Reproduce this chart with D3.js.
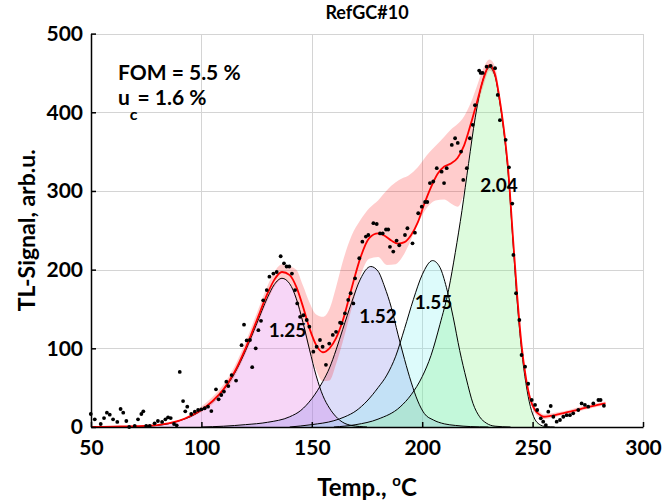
<!DOCTYPE html>
<html lang="en">
<head>
<meta charset="UTF-8">
<title>RefGC#10</title>
<script src="https://d3js.org/d3.v7.min.js"></script>
<style>
body { margin: 0; background: #fff; }
svg { font-family: Lato, "DejaVu Sans", sans-serif; font-weight: bold; }
.grid line { stroke: #d4d4d4; stroke-width: 1; shape-rendering: crispEdges; }
.axis path, .axis line { stroke: #000; stroke-width: 1.5; }
.axis text { font-family: Lato, sans-serif; font-size: 21px; font-weight: bold; fill: #000; }
</style>
</head>
<body>
<script>
// ticks
var xTicks = [50, 100, 150, 200, 250, 300];
var yTicks = [0, 100, 200, 300, 400, 500];

// glow peak components (temp, signal)
var p1T = [60, 70, 75, 80, 85, 90, 95, 100, 105, 110, 115, 120, 125, 130, 133, 136.5, 140, 143, 146, 149, 152, 155, 158, 161, 164, 168, 175];
var p1V = [0, 0.5, 1, 2, 4, 8, 13, 21, 32, 47, 68, 97, 131, 165, 181, 189, 182, 163, 133, 98, 65, 40, 24, 13, 6, 2, 0];
var p2T = [100, 110, 120, 130, 140, 145, 150, 155, 158, 161, 164, 168, 172, 176.7, 180, 183, 186, 189, 192, 195, 198, 201, 205, 210, 215, 222, 230];
var p2V = [0, 1, 3, 6, 13, 21, 36, 58, 75, 98, 124, 158, 188, 204, 198, 178, 152, 118, 86, 57, 33, 17, 9, 4, 2, 0.5, 0];
var p3T = [140, 150, 160, 165, 170, 175, 180, 184, 188, 192, 196, 200, 204.7, 208, 211, 214, 217, 220, 223, 226, 229, 233, 240];
var p3V = [0, 3, 8, 13, 20.5, 33, 50, 66, 90, 125, 162, 193.5, 211.5, 203, 177, 140, 97, 61, 30, 13, 5, 1, 0];
var p4T = [160, 170, 180, 190, 195, 200, 204, 208, 212, 215, 218, 221, 224, 227, 230.5, 233, 235, 237, 239, 241, 243, 245, 247, 249, 251, 253, 256, 260];
var p4V = [0, 3, 10, 25.5, 41, 64, 91, 130, 175, 222, 275, 335, 393, 436, 457, 446, 415, 375, 320, 240, 160, 98, 55, 26, 10, 3.5, 0.5, 0];
var peakLabels = ["1.25", "1.52", "1.55", "2.04"];

// fitted sum
var fitT = [50, 60, 70, 80, 85, 90, 95, 100, 105, 110, 115, 120, 125, 130, 133, 136.5, 140, 143, 146, 149, 152, 155, 158, 161, 164, 168, 172, 176, 180, 183, 186, 189, 192, 195, 198, 201, 204, 207, 210, 213, 216, 219, 222, 225, 228, 230.5, 233, 235, 237, 239, 241, 243, 245, 247, 249, 251, 253, 255, 258, 262, 267, 272, 277, 283];
var fitV = [0, 0.5, 1, 2.5, 4.5, 8, 14, 22, 33, 48, 70, 100, 135, 170, 187, 197, 193, 178, 153, 125, 104, 95, 100, 113, 135, 176, 215, 240, 246, 243, 237, 233, 235, 244, 260, 284, 305, 322, 331, 335, 342, 358, 385, 415, 445, 460, 448, 418, 378, 325, 245, 168, 104, 62, 35, 22, 16, 13, 14, 16.5, 19.5, 23, 26.5, 30];

// uncertainty band
var bandT = [88, 95, 100, 105, 110, 115, 120, 125, 130, 133, 136.5, 140, 143, 146, 149, 152, 155, 158, 161, 164, 168, 172, 176, 180, 184, 188, 191, 194, 198, 202, 206, 210, 213, 216, 219, 222, 225, 228, 230.5, 233, 235, 237, 239, 241, 243, 245, 247, 249, 251, 253, 255, 258, 262, 267, 272, 277, 283];
var bandLo = [6, 12, 19, 29, 43, 64, 93, 127, 161, 178, 188, 183, 160, 128, 96, 72, 58, 59, 80, 108, 150, 192, 214, 216, 206, 207, 216, 232, 258, 278, 288, 289, 284, 280, 300, 360, 405, 436, 453, 442, 411, 371, 318, 238, 161, 98, 57, 31, 18, 12, 10, 11, 14, 17, 20.5, 24, 27.5];
var bandHi = [6, 16, 26, 38, 54, 77, 108, 144, 180, 197, 207, 204, 200, 180, 158, 143, 140, 150, 178, 210, 243, 263, 278, 288, 301, 311, 316, 320, 330, 345, 357, 369, 378, 385, 395, 412, 435, 458, 467, 458, 425, 385, 332, 252, 175, 110, 67, 39, 26, 20, 16, 17, 19, 22, 26, 29, 32.5];

// measured points
var dotT = [49.9, 51.7, 54.4, 55.9, 57.2, 58.5, 60, 61.9, 63.4, 64.6, 66, 67.3, 69.8, 71.3, 72.8, 73.7, 75, 76.6, 78.8, 80.3, 82.2, 83.7, 84.9, 86.1, 87.6, 88.8, 90.2, 91.7, 92.7, 93.6, 95.4, 97, 98.5, 100, 101.5, 103, 104.5, 106.6, 107.8, 109, 110.2, 111.3, 112.2, 113.7, 115.7, 118.2, 119.3, 120.5, 122, 123, 124.6, 125.8, 127, 128, 129.6, 130.8, 132.6, 134.1, 135.9, 137.4, 138.6, 139.8, 141, 142.4, 143.4, 144.7, 146.2, 147.7, 148.9, 150.7, 152.2, 153.7, 154.9, 156.4, 157.9, 159.5, 161, 162.8, 163.5, 165, 166.5, 167.6, 168.8, 169.6, 171.5, 172.9, 174.5, 175.6, 177.9, 179.4, 180.9, 182.1, 183.6, 184.6, 185.4, 186.9, 188.4, 189.6, 192.2, 193.3, 195.6, 196.7, 198.2, 199.8, 201.3, 202.3, 203.5, 205, 206.6, 208.8, 209.9, 211.1, 213.4, 214.9, 216.1, 217.6, 218.6, 220.2, 221.6, 222.9, 223.9, 225.8, 226.5, 227.4, 229.2, 231, 233, 234.2, 235.2, 237.8, 239.3, 240.8, 241.3, 242.5, 244, 245, 246.6, 248, 249.6, 251.1, 252.1, 253.7, 254.8, 256, 257.1, 258.2, 259.4, 260.9, 262.4, 263.9, 265.4, 266.9, 268.4, 270.7, 272.2, 273.7, 275.2, 277.5, 279.8, 280.8, 282.3];
var dotV = [16.5, 9.7, 3.8, 11.4, 18.2, 15.7, 9.7, 6.4, 22.9, 18.2, 7.6, 0, 1.3, 9.7, 16.5, 19.9, 1.3, 1.3, 4.7, 7.6, 6.4, 9.7, 12.3, 11.4, 3.8, 2.1, 70, 33, 19.9, 25.8, 16.5, 19.5, 21.6, 22.5, 23.8, 25.8, 20.3, 47.9, 35.2, 40.7, 45, 57.6, 52, 66, 59, 104, 130, 110, 110.6, 76, 100, 123, 135, 161, 174, 191, 195, 197, 217, 208, 204, 204, 195, 174, 157, 140, 142, 136, 127.5, 95.7, 102, 110.6, 102, 79, 106, 117, 121, 132.6, 132, 144.5, 161.5, 170, 157, 189, 214.5, 235.6, 242, 244, 259, 258, 246, 246, 251, 251, 229, 223, 237, 231, 244, 252.6, 233.5, 247, 271.7, 280, 286, 286, 310, 312, 329, 324.5, 310, 329, 358.5, 367, 361, 350, 314, 329, 367, 384, 409, 453, 450, 450, 458, 459, 456, 422, 390, 365, 330, 284, 218.7, 170, 136, 91.5, 76.7, 55, 34.3, 28, 21.6, 11, 6.8, 2.5, 19.5, 26.7, 13, 6.8, 8.9, 13, 15, 15, 17.4, 21.6, 30, 28, 25.8, 30, 34.3, 34.3, 27];

var width = 663, height = 501;
var x0 = 91, x1 = 643, yTop = 33.6, yBot = 427;

var svg = d3.select("body").append("svg")
    .attr("width", width)
    .attr("height", height);

var x = d3.scaleLinear().domain([50, 300]).range([x0, x1]);
var y = d3.scaleLinear().domain([0, 500]).range([yBot, yTop]);

// grid
var grid = svg.append("g").attr("class", "grid");
grid.selectAll(".gx").data(xTicks).enter().append("line")
    .attr("x1", function(d) { return Math.round(x(d)) + 0.5; })
    .attr("x2", function(d) { return Math.round(x(d)) + 0.5; })
    .attr("y1", yTop).attr("y2", yBot);
grid.selectAll(".gy").data(yTicks).enter().append("line")
    .attr("x1", x0).attr("x2", x1)
    .attr("y1", function(d) { return Math.round(y(d)) + 0.5; })
    .attr("y2", function(d) { return Math.round(y(d)) + 0.5; });

var peaks = [
    { t: p1T, v: p1V, fill: "rgba(230,120,230,0.30)" },
    { t: p2T, v: p2V, fill: "rgba(120,120,230,0.25)" },
    { t: p3T, v: p3V, fill: "rgba(120,240,240,0.25)" },
    { t: p4T, v: p4V, fill: "rgba(120,240,120,0.25)" }
];

var area = d3.area()
    .x(function(d) { return x(d[0]); })
    .y0(y(0))
    .y1(function(d) { return y(d[1]); })
    .curve(d3.curveMonotoneX);
var line = d3.line()
    .x(function(d) { return x(d[0]); })
    .y(function(d) { return y(d[1]); })
    .curve(d3.curveMonotoneX);

function pairs(t, v) { return t.map(function(d, i) { return [d, v[i]]; }); }

// filled peaks
peaks.forEach(function(p) {
    svg.append("path").datum(pairs(p.t, p.v))
        .attr("d", area)
        .attr("fill", p.fill)
        .attr("stroke", "none");
});

// band
var band = d3.area()
    .x(function(d, i) { return x(bandT[i]); })
    .y0(function(d, i) { return y(bandLo[i]); })
    .y1(function(d, i) { return y(bandHi[i]); })
    .curve(d3.curveMonotoneX);
svg.append("path").datum(bandT)
    .attr("d", band)
    .attr("fill", "rgba(255,0,0,0.2)");

// peak outlines
peaks.forEach(function(p) {
    svg.append("path").datum(pairs(p.t, p.v))
        .attr("d", line)
        .attr("fill", "none")
        .attr("stroke", "#000")
        .attr("stroke-width", 1);
});

// fit line
svg.append("path").datum(pairs(fitT, fitV))
    .attr("d", line)
    .attr("fill", "none")
    .attr("stroke", "#ff0000")
    .attr("stroke-width", 1.8);

// points
svg.append("g").selectAll("circle")
    .data(pairs(dotT, dotV)).enter()
    .append("circle")
    .attr("cx", function(d) { return x(d[0]); })
    .attr("cy", function(d) { return y(d[1]); })
    .attr("r", 1.9)
    .attr("fill", "#000");

// axes
svg.append("g").attr("class", "axis")
    .attr("transform", "translate(0," + yBot + ")")
    .call(d3.axisBottom(x).tickValues(xTicks).tickSize(-5).tickSizeOuter(0).tickPadding(13));
svg.append("g").attr("class", "axis")
    .attr("transform", "translate(" + x0 + ",0)")
    .call(d3.axisLeft(y).tickValues(yTicks).tickSize(-5).tickSizeOuter(0).tickPadding(8));

// peak labels
var labelPos = [[287.5, 337], [378, 323], [433.5, 309], [499, 192]];
svg.selectAll(".plab").data(peakLabels).enter().append("text")
    .attr("x", function(d, i) { return labelPos[i][0]; })
    .attr("y", function(d, i) { return labelPos[i][1]; })
    .attr("text-anchor", "middle")
    .style("font-size", "19px")
    .text(function(d) { return d; });

// title and annotations
svg.append("text").attr("x", (x0 + x1) / 2).attr("y", 19)
    .attr("text-anchor", "middle").style("font-size", "18px").text("RefGC#10");

svg.append("text").attr("x", 118).attr("y", 80)
    .style("font-size", "21px").text("FOM = 5.5 %");
var uc = svg.append("text").attr("x", 118).attr("y", 105).style("font-size", "21px");
uc.append("tspan").text("u");
uc.append("tspan").attr("dy", 15).style("font-size", "16px").text("c");
uc.append("tspan").attr("dy", -15).text("= 1.6 %");

svg.append("text")
    .attr("transform", "translate(35," + ((yTop + yBot) / 2) + ") rotate(-90)")
    .attr("text-anchor", "middle").style("font-size", "23px")
    .text("TL-Signal, arb.u.");

var xl = svg.append("text").attr("x", (x0 + x1) / 2).attr("y", 496)
    .attr("text-anchor", "middle").style("font-size", "24px");
xl.append("tspan").text("Temp., ");
xl.append("tspan").attr("dy", -10).style("font-size", "15px").text("o");
xl.append("tspan").attr("dy", 10).text("C");
</script>
</body>
</html>
